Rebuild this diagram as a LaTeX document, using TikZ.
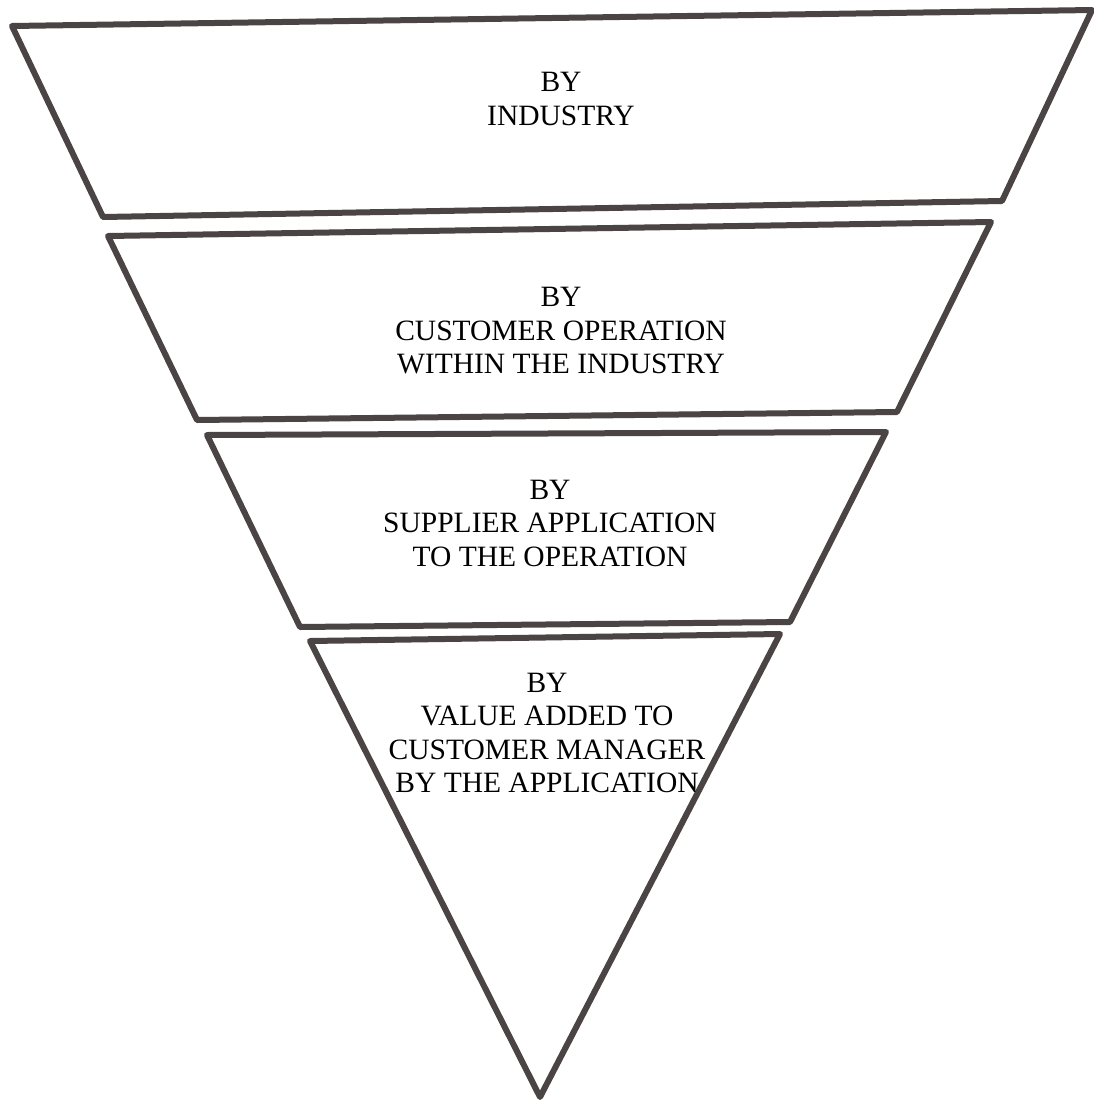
\documentclass[tikz,border=0pt]{standalone}
\usepackage{fontspec}
\setmainfont{Liberation Serif}
\definecolor{penink}{HTML}{4A4444}
\begin{document}
\begin{tikzpicture}[x=1pt,y=-1pt,
  seg/.style={draw=penink,line width=6pt,line join=round,line cap=round},
  lbl/.style={align=center,font=\fontsize{29.5}{33.5}\selectfont,text=black,inner sep=0pt}]
\useasboundingbox[fill=white] (0,0) rectangle (1094,1106);
% segment 1
\draw[seg] (12,26) -- (1092,10) -- (1002,201) -- (103,217) -- cycle;
% segment 2
\draw[seg] (108,236) -- (991,222) -- (897,412) -- (197,420) -- cycle;
% segment 3
\draw[seg] (207,435) -- (886,432) -- (790,622) -- (300,627) -- cycle;
% segment 4
\draw[seg] (310,641) -- (780,634) -- (540,1097) -- cycle;
\node[lbl] (t1) at (561,99) {BY\\INDUSTRY};
\node[lbl] (t2) at (561,331) {BY\\CUSTOMER OPERATION\\WITHIN THE INDUSTRY};
\node[lbl] (t3) at (550,523) {BY\\SUPPLIER APPLICATION\\TO THE OPERATION};
\node[lbl] (t4) at (547,733) {BY\\VALUE ADDED TO\\CUSTOMER MANAGER\\BY THE APPLICATION};
\end{tikzpicture}
\end{document}
